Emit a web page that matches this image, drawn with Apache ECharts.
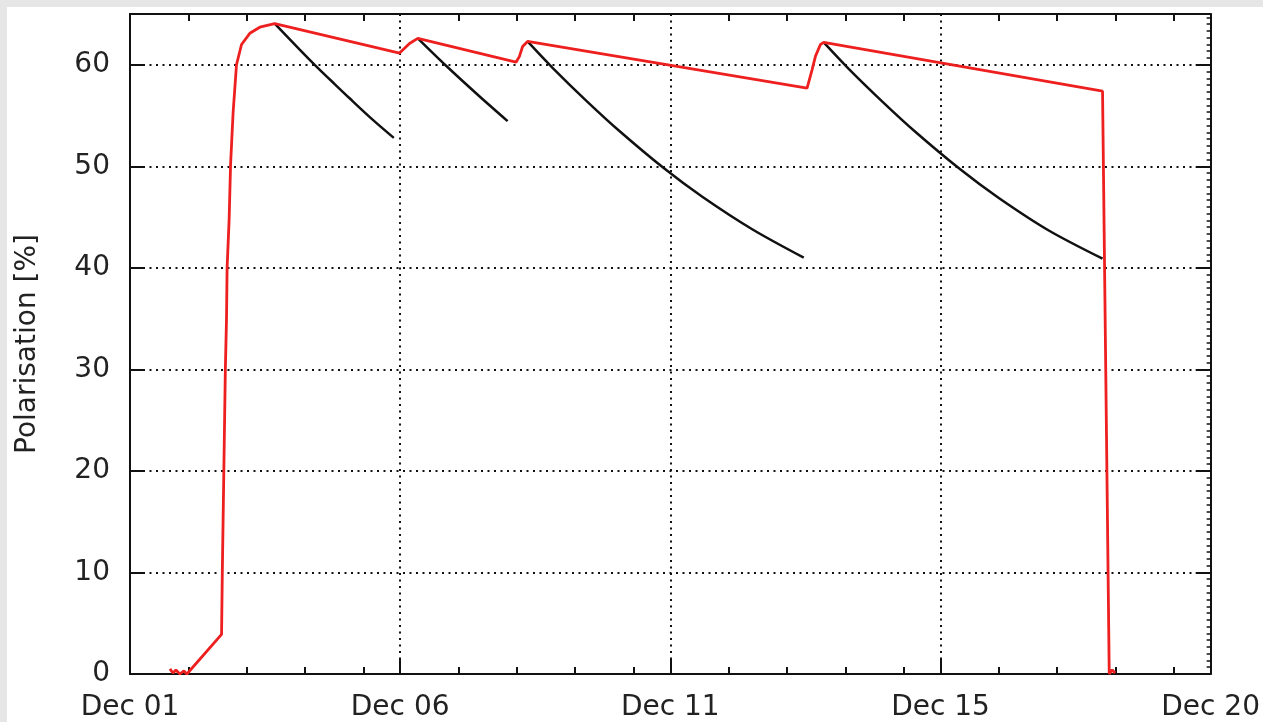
<!DOCTYPE html>
<html>
<head>
<meta charset="utf-8">
<script src="https://cdn.jsdelivr.net/npm/echarts@6/dist/echarts.min.js"></script>
<style>
  html, body { margin: 0; padding: 0; background: #e6e6e6; width: 1263px; height: 722px; overflow: hidden; }
  #panel { position: absolute; left: 7px; top: 7px; right: 0; bottom: 0; background: #ffffff; }
  #chart { position: absolute; left: 0; top: 0; width: 1263px; height: 722px; }
</style>
</head>
<body>
<div id="panel"></div>
<div id="chart"></div>
<script>
// ---- data (x in days from the axis origin, y in % polarisation) ----
const tickLabels = ['Dec 01', 'Dec 06', 'Dec 11', 'Dec 15', 'Dec 20'];

const polDays = [0.684, 0.736, 0.787, 0.855, 0.924, 0.975, 1.569, 1.582, 1.608, 1.634, 1.654, 1.664,
  1.699, 1.723, 1.767, 1.825, 1.911, 2.053, 2.224, 2.480, 4.619, 4.790, 4.932, 6.615, 6.672, 6.728,
  6.813, 11.603, 11.688, 11.747, 11.832, 11.888, 16.666, 16.781, 16.832, 16.883];
const polValues = [0.5, 0.1, 0.4, 0.0, 0.3, 0.0, 3.9, 10, 20, 30, 35, 40,
  44.8, 50.1, 55.3, 60.0, 62.0, 63.1, 63.7, 64.05, 61.15, 62.1, 62.6, 60.25, 60.8, 61.8,
  62.3, 57.7, 59.5, 60.85, 62.0, 62.2, 57.4, 0.0, 0.4, 0.1];

const decay1Days = [2.480, 2.908, 3.165, 3.507, 3.763, 4.157, 4.521];
const decay1Values = [64.05, 61.5, 60.0, 58.1, 56.7, 54.6, 52.8];
const decay2Days = [4.932, 5.417, 5.987, 6.471];
const decay2Values = [62.6, 59.9, 56.9, 54.45];
const decay3Days = [6.813, 7.241, 7.812, 8.382, 9.151, 9.807, 10.662, 11.546];
const decay3Values = [62.3, 59.7, 56.5, 53.5, 49.8, 47.0, 43.8, 41.0];
const decay4Days = [11.888, 12.316, 12.888, 13.457, 14.227, 14.882, 15.737, 16.666];
const decay4Values = [62.2, 59.6, 56.4, 53.4, 49.7, 46.9, 43.7, 40.9];

// ---- axis constants ----
const DAY = 86400;          // seconds
const MAJOR = 400000;       // seconds between major x ticks
const X_MAX = 4 * MAJOR;
const Y_MAX = 65;

const minorX = [];
for (let k = 0; k < 4; k++) {
  for (let j = 1; j * DAY < MAJOR; j++) minorX.push(k * MAJOR + j * DAY);
}

function pts(days, vals) { return days.map((d, i) => [d * DAY, vals[i]]); }

const FONT = 'DejaVu Sans';
const TXT = '#222';
const FS = 28;
const gridLine = { show: true, lineStyle: { color: '#111', width: 2, type: [2, 4.5] } };
const frame = { show: true, onZero: false, lineStyle: { color: '#111', width: 2 } };
const noLine = { show: false, onZero: false };

const chart = echarts.init(document.getElementById('chart'), null, { renderer: 'canvas' });
const blackStyle = { type: 'line', symbol: 'none', lineStyle: { color: '#111', width: 2.5 },
  smooth: 0.3, z: 3, silent: true };

chart.setOption({
  animation: false,
  backgroundColor: 'transparent',
  grid: { left: 130, right: 50.5, top: 14, bottom: 46, containLabel: false },
  xAxis: [
    { type: 'value', position: 'bottom', min: 0, max: X_MAX, interval: MAJOR,
      axisLine: frame,
      axisTick: { show: true, inside: true, length: 15, lineStyle: { color: '#111', width: 2 } },
      axisLabel: { show: true, margin: 20, fontFamily: FONT, fontSize: FS, color: TXT,
        showMinLabel: true, showMaxLabel: true,
        formatter: v => tickLabels[Math.round(v / MAJOR)] || '' },
      splitLine: gridLine },
    { type: 'value', position: 'bottom', min: 0, max: X_MAX, gridIndex: 0,
      axisLine: noLine,
      axisTick: { show: true, inside: true, length: 7, customValues: minorX, lineStyle: { color: '#111', width: 2 } },
      axisLabel: { show: false }, splitLine: { show: false } },
    { type: 'value', position: 'top', min: 0, max: X_MAX, gridIndex: 0,
      axisLine: frame,
      axisTick: { show: true, inside: true, length: 7, customValues: minorX, lineStyle: { color: '#111', width: 2 } },
      axisLabel: { show: false }, splitLine: { show: false } }
  ],
  yAxis: [
    { type: 'value', position: 'left', min: 0, max: Y_MAX, interval: 10,
      name: 'Polarisation [%]', nameLocation: 'middle', nameGap: 88,
      nameTextStyle: { fontFamily: FONT, fontSize: FS, color: TXT },
      axisLine: frame,
      axisTick: { show: true, inside: true, length: 15, lineStyle: { color: '#111', width: 2 } },
      axisLabel: { margin: 20, fontFamily: FONT, fontSize: FS, color: TXT, showMaxLabel: false },
      splitLine: gridLine },
    { type: 'value', position: 'right', min: 0, max: Y_MAX, interval: 10,
      axisLine: frame,
      axisTick: { show: true, inside: true, length: 15, lineStyle: { color: '#111', width: 2 } },
      minorTick: { show: true, splitNumber: 15, length: 4, lineStyle: { color: '#111', width: 1.5 } },
      axisLabel: { show: false }, splitLine: { show: false } }
  ],
  series: [
    Object.assign({ name: 'decay1', data: pts(decay1Days, decay1Values) }, blackStyle),
    Object.assign({ name: 'decay2', data: pts(decay2Days, decay2Values) }, blackStyle),
    Object.assign({ name: 'decay3', data: pts(decay3Days, decay3Values) }, blackStyle),
    Object.assign({ name: 'decay4', data: pts(decay4Days, decay4Values) }, blackStyle),
    { name: 'Polarisation', type: 'line', symbol: 'none', data: pts(polDays, polValues),
      lineStyle: { color: '#ee1f1f', width: 2.8 }, z: 4, silent: true }
  ]
});
</script>
</body>
</html>
